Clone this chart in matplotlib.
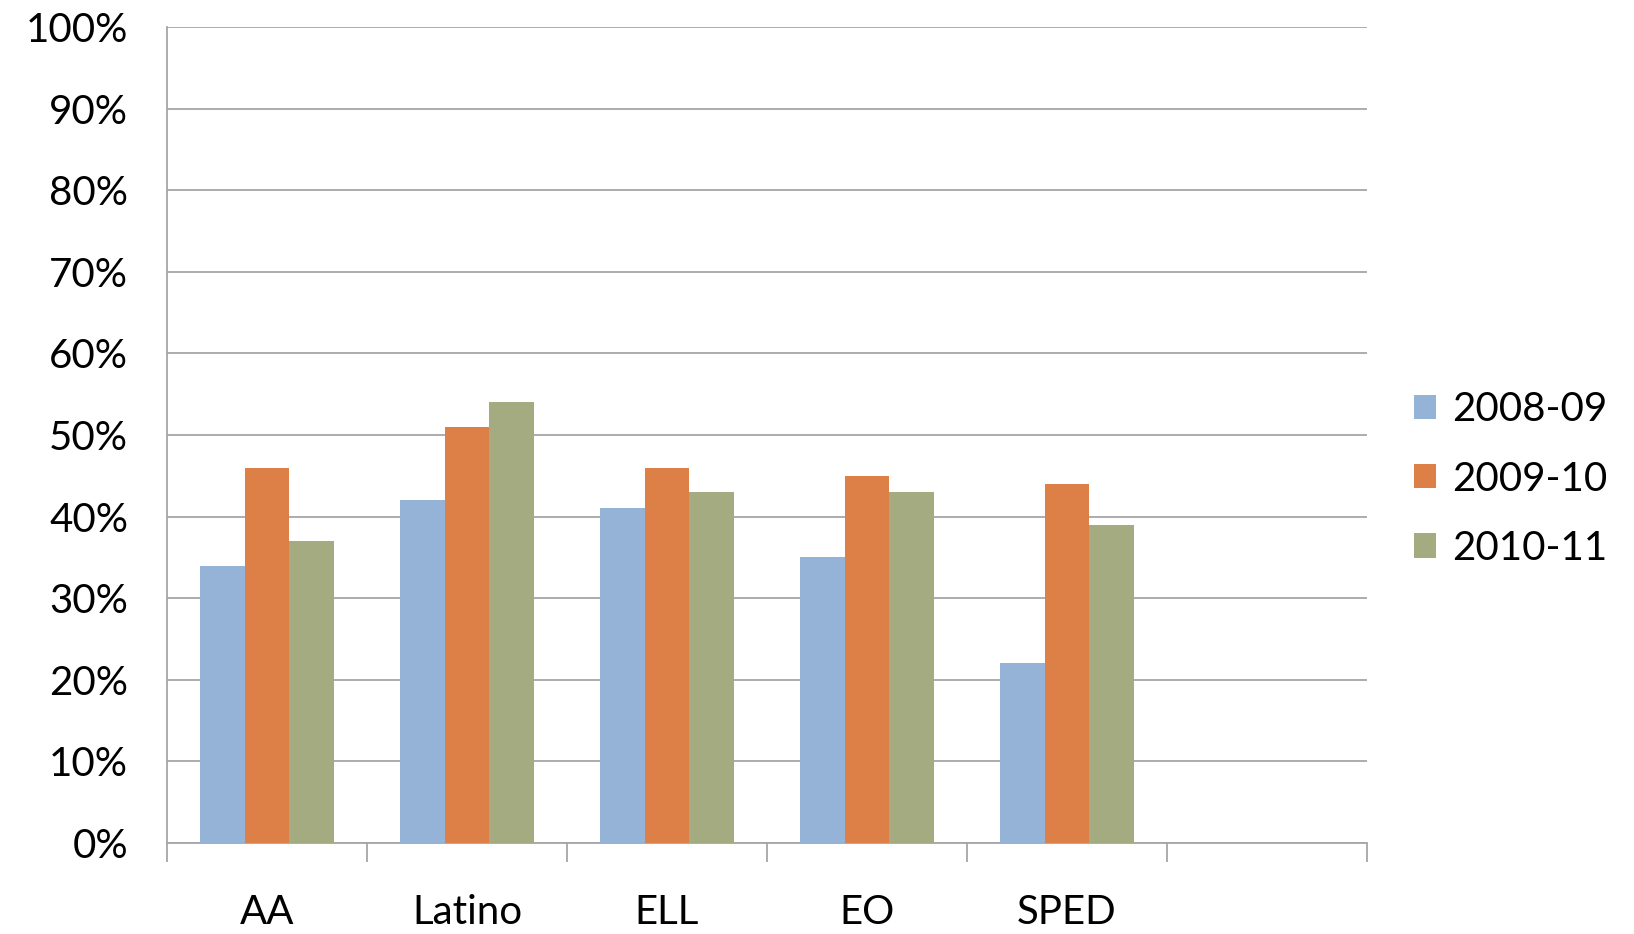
import matplotlib
matplotlib.use("Agg")
import matplotlib.pyplot as plt
import numpy as np
from matplotlib.ticker import FuncFormatter, MultipleLocator

categories = ["AA", "Latino", "ELL", "EO", "SPED"]
series_names = ["2008-09", "2009-10", "2010-11"]
values_2008 = [34, 42, 41, 35, 22]
values_2009 = [46, 51, 46, 45, 44]
values_2010 = [37, 54, 43, 43, 39]
colors = ["#95B3D7", "#DD8048", "#A5AB80"]

plt.rcParams["font.family"] = ["Lato", "DejaVu Sans"]

W, H, DPI = 1634, 934, 100
fig = plt.figure(figsize=(W / DPI, H / DPI), dpi=DPI)
ax = fig.add_axes([167 / W, 1 - 843 / H, 1200 / W, (843 - 27) / H])

n_slots = 6  # one empty slot after the last category
bar_w = 1 / 4.5
x = np.arange(len(categories))
for i, (name, vals) in enumerate(zip(series_names, [values_2008, values_2009, values_2010])):
    ax.bar(x + (i - 1) * bar_w, vals, width=bar_w, color=colors[i], label=name,
           edgecolor="none", zorder=3)

ax.set_xlim(-0.5, n_slots - 0.5)
ax.set_ylim(0, 100)
ax.yaxis.set_major_locator(MultipleLocator(10))
ax.yaxis.set_major_formatter(FuncFormatter(lambda v, p: f"{int(v)}%"))
ax.grid(axis="y", color="#A6A6A6", linewidth=1.3, zorder=0)

ax.set_xticks(np.arange(n_slots + 1) - 0.5)
ax.set_xticklabels([])
ax.set_xticks(x, minor=True)
ax.set_xticklabels(categories, minor=True)
ax.tick_params(axis="x", which="major", length=14, width=1.3, color="#A6A6A6", direction="out")
ax.tick_params(axis="x", which="minor", length=0, pad=37, labelsize=29)
ax.tick_params(axis="y", length=0, pad=28, labelsize=29)

for side in ["top", "right"]:
    ax.spines[side].set_visible(False)
for side in ["left", "bottom"]:
    ax.spines[side].set_color("#A6A6A6")
    ax.spines[side].set_linewidth(1.3)

fig.legend(loc="center left", bbox_to_anchor=(1414 / W, 1 - 479 / H), frameon=False,
           fontsize=29, handlelength=0.55, handleheight=0.55, handletextpad=0.4,
           labelspacing=0.8, borderpad=0, borderaxespad=0)

fig.savefig("out.png", dpi=DPI, facecolor="white")
